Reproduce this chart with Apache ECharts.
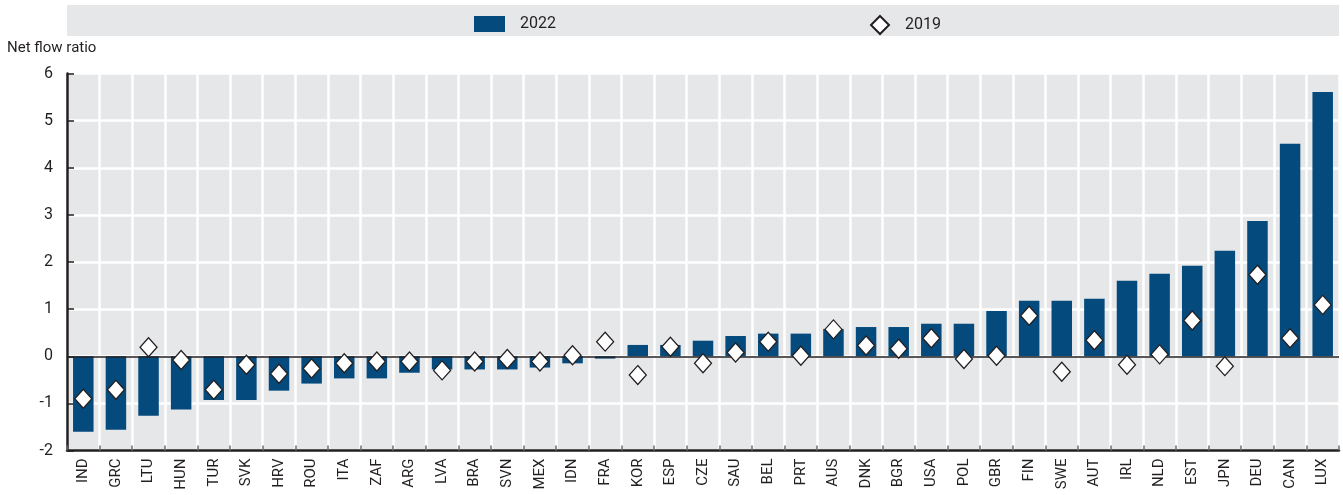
<!DOCTYPE html>
<html>
<head>
<meta charset="utf-8">
<script src="https://cdn.jsdelivr.net/npm/echarts@6/dist/echarts.min.js"></script>
<style>
html,body{margin:0;padding:0;background:#fff;}
#c{width:1343px;height:495px;}
</style>
</head>
<body>
<div id="c"></div>
<script>
const categories = ['IND','GRC','LTU','HUN','TUR','SVK','HRV','ROU','ITA','ZAF','ARG','LVA','BRA','SVN','MEX','IDN','FRA','KOR','ESP','CZE','SAU','BEL','PRT','AUS','DNK','BGR','USA','POL','GBR','FIN','SWE','AUT','IRL','NLD','EST','JPN','DEU','CAN','LUX'];
const values2022 = [-1.60,-1.56,-1.26,-1.13,-0.93,-0.93,-0.73,-0.58,-0.47,-0.47,-0.35,-0.28,-0.28,-0.28,-0.24,-0.15,-0.05,0.24,0.24,0.33,0.43,0.48,0.48,0.58,0.62,0.62,0.69,0.69,0.96,1.18,1.18,1.22,1.60,1.75,1.92,2.24,2.87,4.51,5.61];
const values2019 = [-0.90,-0.71,0.19,-0.08,-0.71,-0.18,-0.37,-0.26,-0.15,-0.11,-0.11,-0.30,-0.11,-0.06,-0.11,0.02,0.31,-0.40,0.20,-0.15,0.08,0.31,0.01,0.57,0.23,0.16,0.38,-0.06,0.01,0.86,-0.33,0.34,-0.18,0.04,0.76,-0.21,1.73,0.38,1.09];
const seriesNames = ['2022','2019'];
const axisTitle = 'Net flow ratio';

const FONT = 'Roboto';
const TXT = '#231f20';
const LABEL_ROTATE = 45;
const LABEL_SIZE = 15;

const chart = echarts.init(document.getElementById('c'));

// Make sure the category labels end up rotated like the reference.
const catSet = new Set(categories);
function fixLabels(){
  try {
    const zr = chart.getZr();
    const list = zr.storage.getDisplayList(true);
    let changed = false;
    list.forEach(function(el){
      if (!el || !el.style) return;
      const t = el.style.text;
      if (typeof t !== 'string' || !catSet.has(t)) return;
      if (Math.abs(el.rotation || 0) < 1e-6) {
        el.rotation = LABEL_ROTATE * Math.PI / 180;
        el.originX = 0; el.originY = 0;
        el.setStyle({align:'right', verticalAlign:'middle', fontSize:LABEL_SIZE, fontFamily:FONT, fill:TXT});
        if (el.markRedraw) el.markRedraw();
        changed = true;
      }
    });
    if (changed) zr.refreshImmediately ? zr.refreshImmediately() : zr.refresh();
  } catch (e) {}
}
chart.on('finished', fixLabels);

chart.setOption({
  animation:false,
  legend:[
    {data:[seriesNames[0]], left:469, top:11, itemWidth:31, itemHeight:16, icon:'rect',
     textStyle:{fontSize:16, color:TXT, fontFamily:FONT, padding:[0,0,0,10]}},
    {data:[seriesNames[1]], left:865, top:10, itemWidth:18, itemHeight:18,
     textStyle:{fontSize:16, color:TXT, fontFamily:FONT, padding:[0,0,0,11]}}
  ],
  grid:{left:67, right:4, top:73.5, height:377, show:true, backgroundColor:'#e6e7e9', borderWidth:0},
  xAxis:{
    type:'category', data:categories,
    axisLine:{onZero:false, lineStyle:{color:TXT, width:2.5}},
    axisTick:{show:true, inside:true, length:5, lineStyle:{color:'#6d6e71', width:1.5}},
    splitLine:{show:true, interval:0, lineStyle:{color:'#ffffff', width:2.5}},
    axisLabel:{interval:0, rotate:LABEL_ROTATE, fontSize:LABEL_SIZE, color:TXT, margin:8, fontFamily:FONT}
  },
  yAxis:{
    type:'value', min:-2, max:6, interval:1,
    axisLine:{show:true, lineStyle:{color:TXT, width:2.5}},
    axisTick:{show:true, inside:true, length:7, lineStyle:{color:TXT, width:1.5}},
    splitLine:{show:true, lineStyle:{color:'#ffffff', width:2.5}},
    axisLabel:{fontSize:16, color:TXT, margin:14, fontFamily:FONT}
  },
  series:[
    {name:seriesNames[0], type:'bar', data:values2022, barWidth:20.5,
     itemStyle:{color:'#044a7c'},
     markLine:{silent:true, symbol:'none', label:{show:false},
       lineStyle:{color:TXT, width:1.5, type:'solid'}, data:[{yAxis:0}]}},
    {name:seriesNames[1], type:'scatter', data:values2019, symbol:'diamond', symbolSize:[17,19],
     itemStyle:{color:'#ffffff', borderColor:TXT, borderWidth:1.3, opacity:1}, z:5}
  ]
});
chart.setOption({
  graphic:[
    {type:'rect', z:0, shape:{x:67,y:5,width:1272,height:31}, style:{fill:'#e6e7e9'}},
    {type:'text', z:5, left:7, top:41, style:{text:axisTitle, font:'15px Roboto', fill:TXT}}
  ]
});
fixLabels();
setTimeout(fixLabels, 0);
</script>
</body>
</html>
